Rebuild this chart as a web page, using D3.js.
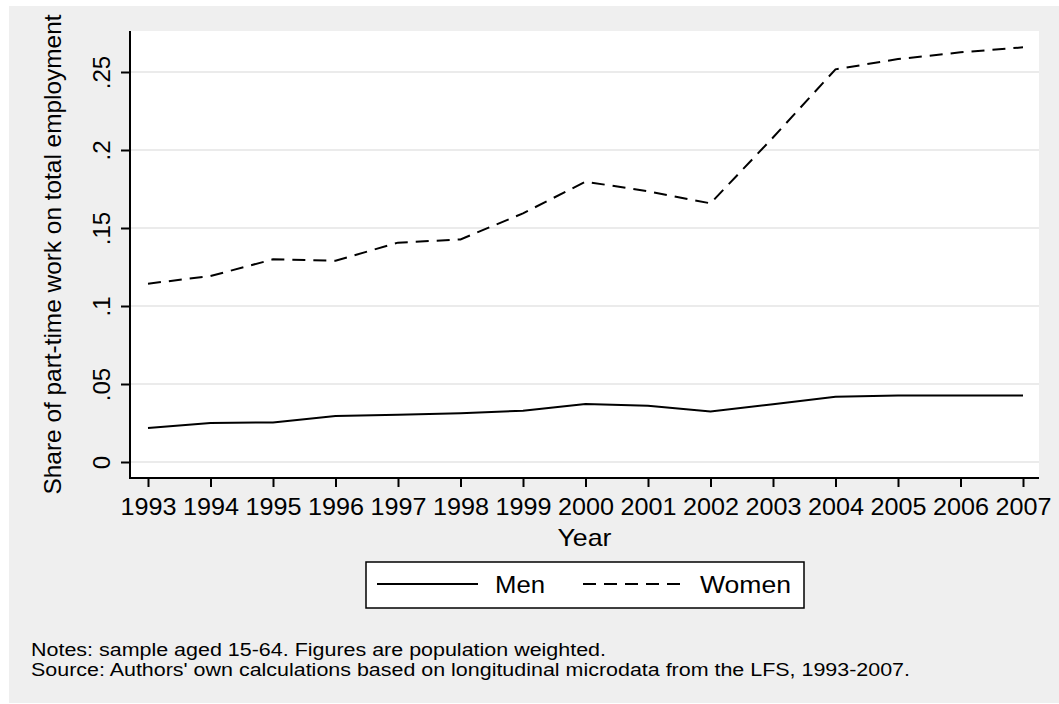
<!DOCTYPE html>
<html>
<head>
<meta charset="utf-8">
<script src="https://cdn.jsdelivr.net/npm/d3@7"></script>
<style>
body { margin: 0; background: #fff; }
text { font-family: "Liberation Sans", Arial, sans-serif; fill: #000; }
</style>
</head>
<body>
<div id="chart"></div>
<script>
// values
const years = [1993, 1994, 1995, 1996, 1997, 1998, 1999, 2000, 2001, 2002, 2003, 2004, 2005, 2006, 2007]
const men = [0.0218, 0.0250, 0.0254, 0.0295, 0.0303, 0.0312, 0.0329, 0.0372, 0.0361, 0.0323, 0.0370, 0.0419, 0.0427, 0.0427, 0.0427]
const women = [0.1143, 0.1192, 0.1299, 0.1290, 0.1406, 0.1427, 0.1594, 0.1797, 0.1735, 0.1658, 0.2080, 0.2517, 0.2583, 0.2626, 0.2658]
const yTicks = [0, 0.05, 0.1, 0.15, 0.2, 0.25]
const yTickLabels = ["0", ".05", ".1", ".15", ".2", ".25"]
const seriesNames = ["Men", "Women"]
const yTitle = "Share of part-time work on total employment"
const xTitle = "Year"
const notes = [
    "Notes: sample aged 15-64. Figures are population weighted.",
    "Source: Authors' own calculations based on longitudinal microdata from the LFS, 1993-2007."
]

const width = 1059
const height = 704
const margin = {
    top: 31,
    bottom: 226,
    left: 130,
    right: 20
}
const innerW = width - margin.left - margin.right
const innerH = height - margin.top - margin.bottom

const svg = d3.select("#chart").append("svg")
    .attr("width", width)
    .attr("height", height)

// grey graph region
svg.append("rect")
    .attr("x", 9).attr("y", 6)
    .attr("width", width - 9).attr("height", height - 7)
    .attr("fill", "#efefef")

let plot = svg.append("g").attr("transform", `translate(${margin.left}, ${margin.top})`)

plot.append("rect")
    .attr("width", innerW).attr("height", innerH)
    .attr("fill", "#fff")

let x = d3.scaleLinear().domain([1993, 2007]).range([18, 893])
let y = d3.scaleLinear().domain([0, 0.25]).range([431, 41])

// gridlines
plot.selectAll(".grid").data(yTicks).enter().append("line")
    .attr("x1", 0).attr("x2", innerW)
    .attr("y1", d => y(d)).attr("y2", d => y(d))
    .attr("stroke", "#e4e4e4")
    .attr("stroke-width", 1.5)

// axes
let yAxis = d3.axisLeft(y)
    .tickValues(yTicks)
    .tickFormat((d, i) => yTickLabels[i])
    .tickSize(9)
let yAxisGroup = plot.append("g").call(yAxis)
yAxisGroup.select(".domain").remove()
yAxisGroup.selectAll("line").attr("stroke", "#000").attr("stroke-width", 2)
yAxisGroup.selectAll("text")
    .attr("x", 0).attr("y", 0).attr("dy", 0)
    .attr("text-anchor", "middle")
    .attr("transform", "translate(-20, 0) rotate(-90)")
    .style("font-size", "24px")
    .style("font-family", null)

let xAxis = d3.axisBottom(x)
    .tickValues(years)
    .tickFormat(d3.format("d"))
    .tickSize(9)
let xAxisGroup = plot.append("g").attr("transform", `translate(0, ${innerH})`).call(xAxis)
xAxisGroup.select(".domain").remove()
xAxisGroup.selectAll("line").attr("stroke", "#000").attr("stroke-width", 2)
xAxisGroup.selectAll("text")
    .attr("y", 37).attr("dy", 0)
    .attr("textLength", 56)
    .attr("lengthAdjust", "spacingAndGlyphs")
    .style("font-size", "24px")
    .style("font-family", null)

// axis lines
plot.append("line")
    .attr("x1", 0).attr("x2", 0).attr("y1", 0).attr("y2", innerH + 1)
    .attr("stroke", "#000").attr("stroke-width", 2)
plot.append("line")
    .attr("x1", -1).attr("x2", innerW).attr("y1", innerH).attr("y2", innerH)
    .attr("stroke", "#000").attr("stroke-width", 2)

// series
let line = d3.line()
    .x((d, i) => x(years[i]))
    .y(d => y(d))

plot.append("path").datum(men)
    .attr("d", line)
    .attr("fill", "none")
    .attr("stroke", "#000")
    .attr("stroke-width", 2)

plot.append("path").datum(women)
    .attr("d", line)
    .attr("fill", "none")
    .attr("stroke", "#000")
    .attr("stroke-width", 2)
    .attr("stroke-dasharray", "13,8")

// titles
svg.append("text")
    .attr("transform", `translate(61, ${margin.top + innerH / 2}) rotate(-90)`)
    .attr("text-anchor", "middle")
    .attr("textLength", 480)
    .attr("lengthAdjust", "spacingAndGlyphs")
    .style("font-size", "24px")
    .text(yTitle)

svg.append("text")
    .attr("x", margin.left + innerW / 2).attr("y", 546)
    .attr("text-anchor", "middle")
    .attr("textLength", 54)
    .attr("lengthAdjust", "spacingAndGlyphs")
    .style("font-size", "24px")
    .text(xTitle)

// legend
let legend = svg.append("g")
legend.append("rect")
    .attr("x", 366).attr("y", 562)
    .attr("width", 438).attr("height", 46)
    .attr("fill", "#fff")
    .attr("stroke", "#000").attr("stroke-width", 1.5)

const legendKeys = [
    { x: 377, tx: 495, tl: 50, dash: null },
    { x: 583, tx: 700, tl: 91, dash: "13,8" }
]
seriesNames.forEach((name, i) => {
    let k = legendKeys[i]
    legend.append("line")
        .attr("x1", k.x).attr("x2", k.x + 101)
        .attr("y1", 584).attr("y2", 584)
        .attr("stroke", "#000").attr("stroke-width", 2)
        .attr("stroke-dasharray", k.dash)
    legend.append("text")
        .attr("x", k.tx).attr("y", 593)
        .attr("textLength", k.tl)
        .attr("lengthAdjust", "spacingAndGlyphs")
        .style("font-size", "24px")
        .text(name)
})

// notes
const noteLengths = [575, 879]
svg.selectAll(".note").data(notes).enter().append("text")
    .attr("x", 31)
    .attr("y", (d, i) => 656 + i * 20)
    .attr("textLength", (d, i) => noteLengths[i])
    .attr("lengthAdjust", "spacingAndGlyphs")
    .style("font-size", "17.5px")
    .text(d => d)
</script>
</body>
</html>
